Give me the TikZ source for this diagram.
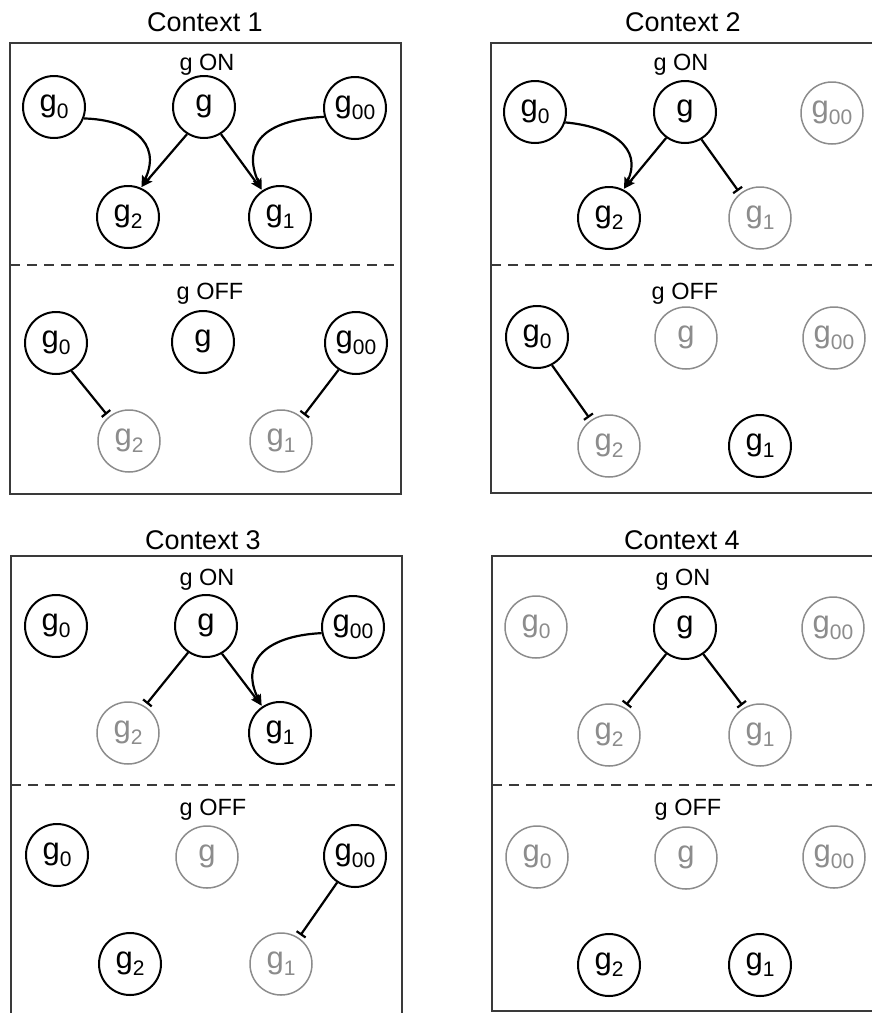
\documentclass[tikz,border=0pt]{standalone}
\usepackage{fontspec}
\setmainfont{Liberation Sans}
\usetikzlibrary{arrows.meta,calc}
\definecolor{offgray}{HTML}{8C8C8C}
\definecolor{boxgray}{HTML}{3A3A3A}
\newcommand{\gsub}[1]{\raisebox{-7pt}{\fontsize{21}{21}\selectfont #1}}
\tikzset{
  gnode/.style={circle, minimum size=62pt, inner sep=0pt, text height=15pt, text depth=6pt,
    font=\fontsize{31}{31}\selectfont},
  on/.style={gnode, draw=black, line width=2pt, text=black},
  off/.style={gnode, draw=offgray, line width=1.5pt, text=offgray},
  act/.style={line width=2.2pt, -{Stealth[length=11pt,width=9pt,inset=2pt]}, shorten >=1pt},
  inh/.style={line width=2.2pt, -{Bar[width=11pt]}, shorten >=3pt},
  panel/.style={line width=1.8pt, draw=boxgray},
  sep/.style={line width=1.5pt, draw=boxgray, dash pattern=on 10pt off 7pt},
  title/.style={font=\fontsize{27}{27}\selectfont, anchor=base},
  state/.style={font=\fontsize{23.5}{23.5}\selectfont, anchor=base},
}
\begin{document}
\begin{tikzpicture}[x=1pt,y=-1pt]
\useasboundingbox (0,0) rectangle (872,1013);

% ---------------- Panel 1 ----------------
\node[title] (t1) at (205,31.7) {Context 1};
\draw[panel] (10,43) rectangle (401,494);
\draw[sep] (10,265) -- (401,265);
\node[state] (s1on) at (207,70) {g ON};
\node[on] (p1on0) at (54,107) {g\gsub{0}};
\node[on] (p1ong) at (204,107) {g};
\node[on] (p1on00) at (355,108) {g\gsub{00}};
\node[on] (p1on2) at (128,217) {g\gsub{2}};
\node[on] (p1on1) at (280,217) {g\gsub{1}};
\draw[act] (p1ong.238) -- (p1on2.66);
\draw[act] (p1on0.-21) .. controls +(45,1) and +(22,-46) .. (p1on2.66);
\draw[act] (p1ong.-58) -- (p1on1.124);
\draw[act] (p1on00.196) .. controls +(-62,3) and +(-20,-45) .. (p1on1.124);
\node[state] (s1off) at (210,299) {g OFF};
\node[on] (p1of0) at (56,343) {g\gsub{0}};
\node[on] (p1ofg) at (203,342) {g};
\node[on] (p1of00) at (356,343) {g\gsub{00}};
\node[off] (p1of2) at (129,441) {g\gsub{2}};
\node[off] (p1of1) at (281,441) {g\gsub{1}};
\draw[inh] (p1of0.-61) -- (p1of2.130);
\draw[inh] (p1of00.237) -- (p1of1.48);

% ---------------- Panel 2 ----------------
\node[title] (t2) at (683,31.7) {Context 2};
\draw[panel] (880,43) -- (491,43) -- (491,493) -- (880,493);
\draw[sep] (491,265) -- (880,265);
\node[state] (s2on) at (681,70) {g ON};
\node[on] (p2on0) at (535,112) {g\gsub{0}};
\node[on] (p2ong) at (685,112) {g};
\node[off] (p2on00) at (832,113) {g\gsub{00}};
\node[on] (p2on2) at (609,218) {g\gsub{2}};
\node[off] (p2on1) at (760,218) {g\gsub{1}};
\draw[act] (p2on0.-19) .. controls +(45,4) and +(20,-42) .. (p2on2.63);
\draw[act] (p2ong.234) -- (p2on2.63);
\draw[inh] (p2ong.-59) -- (p2on1.129);
\node[state] (s2off) at (685,299) {g OFF};
\node[on] (p2of0) at (537,337) {g\gsub{0}};
\node[off] (p2ofg) at (686,338) {g};
\node[off] (p2of00) at (834,338) {g\gsub{00}};
\node[off] (p2of2) at (609,446) {g\gsub{2}};
\node[on] (p2of1) at (760,446) {g\gsub{1}};
\draw[inh] (p2of0.-62) -- (p2of2.125);

% ---------------- Panel 3 ----------------
\node[title] (t3) at (203,549) {Context 3};
\draw[panel] (11,1020) -- (11,556) -- (402,556) -- (402,1020);
\draw[sep] (11,785) -- (402,785);
\node[state] (s3on) at (207,585) {g ON};
\node[on] (p3on0) at (56,626) {g\gsub{0}};
\node[on] (p3ong) at (206,626) {g};
\node[on] (p3on00) at (353,627) {g\gsub{00}};
\node[off] (p3on2) at (128,733) {g\gsub{2}};
\node[on] (p3on1) at (280,733) {g\gsub{1}};
\draw[inh] (p3ong.236) -- (p3on2.58);
\draw[act] (p3ong.-60) -- (p3on1.124);
\draw[act] (p3on00.191) .. controls +(-60,3) and +(-21,-42) .. (p3on1.124);
\node[state] (s3off) at (213,815) {g OFF};
\node[on] (p3of0) at (57,855) {g\gsub{0}};
\node[off] (p3ofg) at (207,857) {g};
\node[on] (p3of00) at (355,856) {g\gsub{00}};
\node[on] (p3of2) at (130,964) {g\gsub{2}};
\node[off] (p3of1) at (281,964) {g\gsub{1}};
\draw[inh] (p3of00.236) -- (p3of1.56);

% ---------------- Panel 4 ----------------
\node[title] (t4) at (682,549) {Context 4};
\draw[panel] (880,556) -- (492,556) -- (492,1011) -- (880,1011);
\draw[sep] (492,785) -- (880,785);
\node[state] (s4on) at (683,585) {g ON};
\node[off] (p4on0) at (536,627) {g\gsub{0}};
\node[on] (p4ong) at (685,628) {g};
\node[off] (p4on00) at (833,628) {g\gsub{00}};
\node[off] (p4on2) at (609,735) {g\gsub{2}};
\node[off] (p4on1) at (760,735) {g\gsub{1}};
\draw[inh] (p4ong.234) -- (p4on2.61);
\draw[inh] (p4ong.-55) -- (p4on1.120);
\node[state] (s4off) at (688,815) {g OFF};
\node[off] (p4of0) at (537,857) {g\gsub{0}};
\node[off] (p4ofg) at (686,858) {g};
\node[off] (p4of00) at (834,857) {g\gsub{00}};
\node[on] (p4of2) at (609,965) {g\gsub{2}};
\node[on] (p4of1) at (760,965) {g\gsub{1}};
\end{tikzpicture}
\end{document}
